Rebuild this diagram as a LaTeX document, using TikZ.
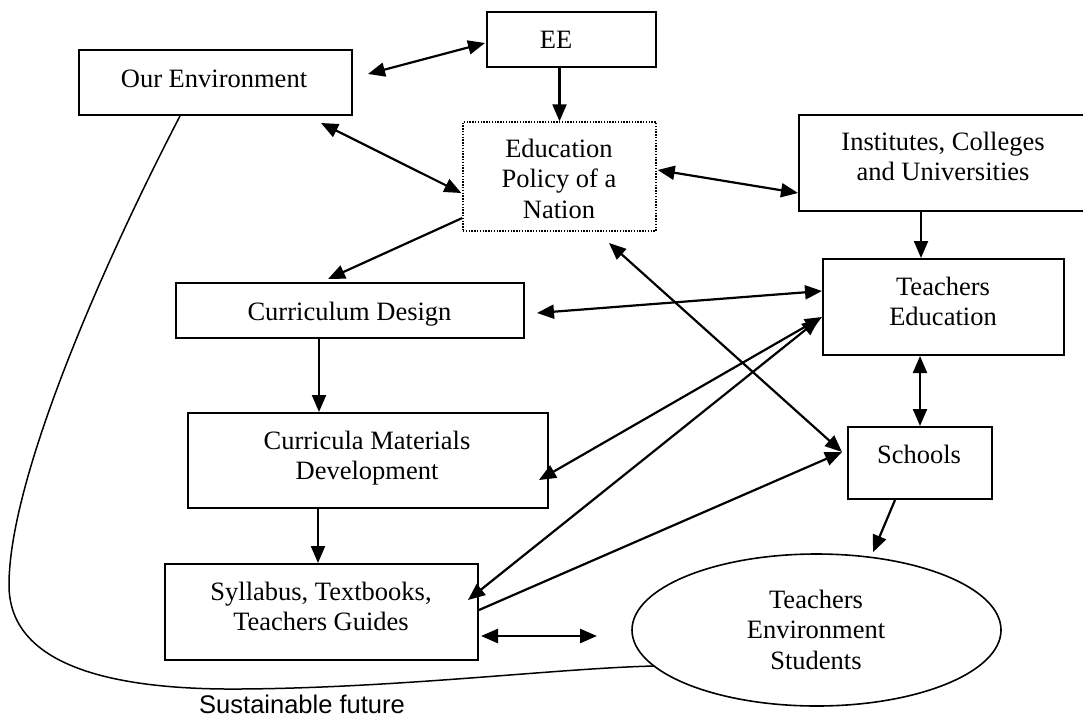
\documentclass[tikz,border=0pt]{standalone}
\usepackage{fontspec}
\setmainfont{Liberation Serif}
\newfontfamily\arialf{Liberation Sans}
\usetikzlibrary{arrows.meta,shapes.geometric,calc,positioning}
\begin{document}
\begin{tikzpicture}[x=1pt,y=-1pt,
  box/.style={draw,line width=2pt,inner sep=0pt},
  dotbox/.style={draw,line width=1.4pt,dash pattern=on 1.4pt off 1.4pt,inner sep=0pt},
  oval/.style={draw,ellipse,line width=1.6pt,inner sep=0pt},
  txt/.style={inner sep=0pt,anchor=north,align=center,font=\fontsize{26.5}{30.5}\selectfont},
  arr/.style={line width=2.2pt,-{Triangle[length=17pt,width=14pt]}},
  darr/.style={line width=2.2pt,{Triangle[length=17pt,width=14pt]}-{Triangle[length=17pt,width=14pt]}},
  curve/.style={line width=1.5pt}]
\useasboundingbox (0,0) rectangle (1083,718);

% boxes
\node[box,minimum width=273.4pt,minimum height=65pt] (ourenv) at (215.3,82.5) {};
\node[box,minimum width=169pt,minimum height=55pt] (ee) at (571.5,39.5) {};
\node[dotbox,minimum width=193pt,minimum height=109pt] (policy) at (559.5,176.5) {};
\node[box,minimum width=288pt,minimum height=96pt] (inst) at (943,163) {};
\node[box,minimum width=241pt,minimum height=96pt] (teached) at (943.5,307) {};
\node[box,minimum width=348pt,minimum height=55pt] (cdesign) at (350,310.5) {};
\node[box,minimum width=360.5pt,minimum height=95pt] (cmat) at (367.75,460.5) {};
\node[box,minimum width=144pt,minimum height=72pt] (schools) at (920,463) {};
\node[box,minimum width=313pt,minimum height=96pt] (syll) at (321.5,612) {};
\node[oval,minimum width=369pt,minimum height=152pt] (tes) at (816.5,630) {};

% texts
\node[txt] (ourenvT) at (214,65.65) {\strut Our Environment};
\node[txt] (eeT) at (556,26.65) {\strut EE};
\node[txt] (policyT) at (559,135.65) {\strut Education\\\strut Policy of a\\\strut Nation};
\node[txt] (instT) at (943,128.65) {\strut Institutes, Colleges\\\strut and Universities};
\node[txt] (teachedT) at (943,273.65) {\strut Teachers\\\strut Education};
\node[txt] (cdesignT) at (349.5,298.65) {\strut Curriculum Design};
\node[txt] (cmatT) at (367,427.65) {\strut Curricula Materials\\\strut Development};
\node[txt] (schoolsT) at (919,441.65) {\strut Schools};
\node[txt] (syllT) at (321,578.65) {\strut Syllabus, Textbooks,\\\strut Teachers Guides};
\node[txt] (tesT) at (816,586.65) {\strut Teachers\\\strut Environment\\\strut Students};
\node[inner sep=0pt,anchor=base,font=\arialf\fontsize{25.5}{30}\selectfont] (sustT) at (302,713) {Sustainable future};

% free ends
\coordinate (a1s) at (368,74);
\coordinate (a3s) at (321,123);
\coordinate (a7s) at (537,313);
\coordinate (a8s) at (609,243);
\coordinate (a16e) at (597,636);
\coordinate (cend) at (655,666);

% connectors
\draw[darr] (a1s) -- ($(ee.west)+(-1,3.5)$);
\draw[arr] (ee.south -| policy.north) -- (policy.north);
\draw[darr] (a3s) -- ($(policy.west)+(-1,16.5)$);
\draw[darr] ($(policy.east)+(1,-6.5)$) -- ($(inst.west)+(0,30)$);
\draw[arr] ($(policy.west)+(0,41.5)$) -- ($(cdesign.north)+(-22,-3)$);
\draw[arr] ($(inst.south)+(-22,0)$) -- ($(teached.north)+(-22.5,0)$);
\draw[darr] (a7s) -- ($(teached.west)+(0,-16)$);
\draw[darr] (a8s) -- ($(schools.west)+(-5,-11)$);
\draw[darr] (teached.south -| schools.north) -- (schools.north);
\draw[darr] ($(teached.west)+(0,10)$) -- ($(cmat.east)+(-10,19.5)$);
\draw[darr] ($(teached.west)+(-3,12)$) -- ($(syll.east)+(-11,-12)$);
\draw[arr] ($(syll.east)+(0,-2)$) -- ($(schools.west)+(-5,-11)$);
\draw[arr] ($(schools.south)+(-25,0)$) -- ($(tes.north)+(56.5,-1)$);
\draw[arr] ($(cdesign.south)+(-31,0)$) coordinate (cd1) -- (cd1 |- cmat.north);
\draw[arr] ($(cmat.south)+(-49.75,0)$) coordinate (cm1) -- (cm1 |- syll.north);
\draw[darr,line width=2.6pt] ($(syll.east)+(2,24)$) -- (a16e);

% sustainable future curve
\draw[curve] ($(ourenv.south)+(-35.3,0)$) .. controls (100,270) and (9,480) .. (9,585)
  .. controls (9,665) and (110,690) .. (240,689)
  .. controls (400,688) and (560,668) .. (cend);
\end{tikzpicture}
\end{document}
